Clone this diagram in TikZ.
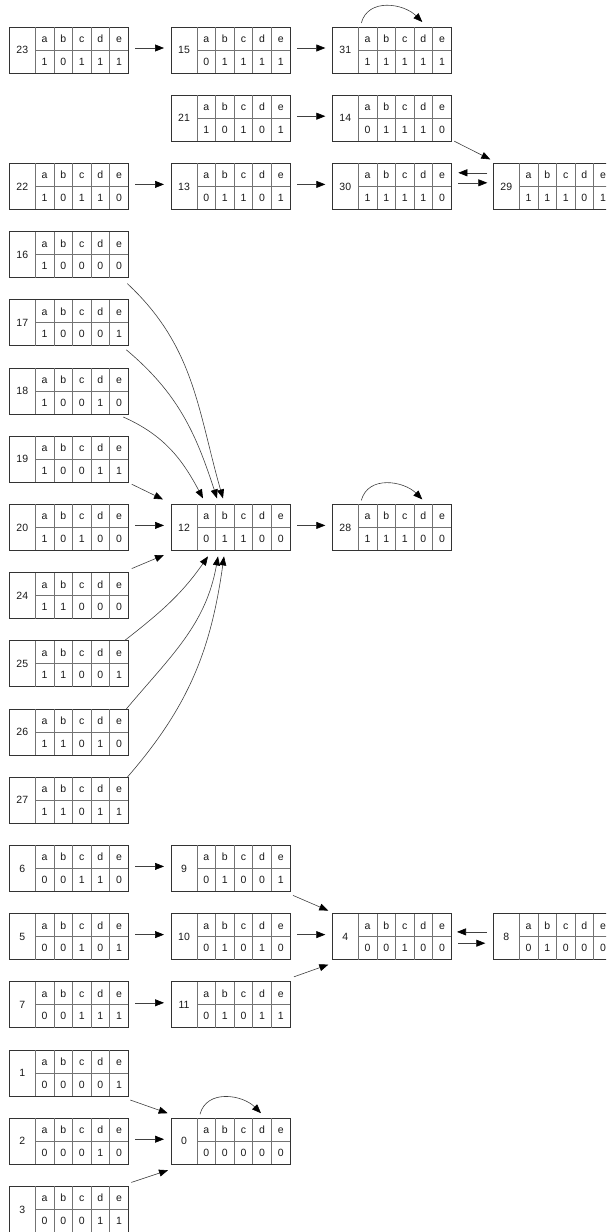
\documentclass[tikz,border=0pt]{standalone}
\usepackage{fontspec}
\setmainfont{Liberation Sans}
\usetikzlibrary{arrows.meta,calc}
\tikzset{
 boxout/.style={draw=black!80,line width=0.8pt,minimum width=119pt,minimum height=46pt,inner sep=0pt,outer sep=0pt},
 cellline/.style={draw=black!55,line width=0.8pt},
 txt/.style={font=\fontsize{10.5}{12}\selectfont,inner sep=0pt,text=black!90},
 arr/.style={draw=black!75,line width=0.6pt,-{Triangle[length=9pt,width=7pt,color=black]}},
}
\newcommand\mkbox[9]{%
  \node[boxout,anchor=north west] (#1) at (#3,-#4) {};
  \begin{scope}[shift={(#1.north west)}]
    \draw[cellline] (26,0) -- (26,-46) (26,-23) -- (119,-23);
    \foreach \k in {1,...,4}{\draw[cellline] ({26+18.6*\k},0) -- ({26+18.6*\k},-46);}
    \node[txt] (#1-lab) at (13,-23) {#2};
    \node[txt,anchor=base] (#1-ha) at (35.3,-15.5) {a};
    \node[txt,anchor=base] (#1-hb) at (53.9,-15.5) {b};
    \node[txt,anchor=base] (#1-hc) at (72.5,-15.5) {c};
    \node[txt,anchor=base] (#1-hd) at (91.1,-15.5) {d};
    \node[txt,anchor=base] (#1-he) at (109.7,-15.5) {e};
    \node[txt,anchor=base] (#1-va) at (35.3,-38) {#5};
    \node[txt,anchor=base] (#1-vb) at (53.9,-38) {#6};
    \node[txt,anchor=base] (#1-vc) at (72.5,-38) {#7};
    \node[txt,anchor=base] (#1-vd) at (91.1,-38) {#8};
    \node[txt,anchor=base] (#1-ve) at (109.7,-38) {#9};
  \end{scope}
}
\newcommand\harr[2]{\draw[arr] ($(#1.east)+(7,2)$) -- ($(#2.west)+(-7,2)$);}
\newcommand\selfloop[1]{\draw[arr] ($(#1.north west)+(29,4)$) to[out=75,in=135,looseness=1.1] ($(#1.north west)+(90,5)$);}
\begin{document}
\begin{tikzpicture}[x=1pt,y=1pt]
\useasboundingbox (0,0) rectangle (606,-1232);
\clip (0,0) rectangle (606,-1232);
% row 0
\mkbox{n23}{23}{9.3}{27}{1}{0}{1}{1}{1}
\mkbox{n15}{15}{171}{27}{0}{1}{1}{1}{1}
\mkbox{n31}{31}{332.3}{27}{1}{1}{1}{1}{1}
% row 1
\mkbox{n21}{21}{171}{95.2}{1}{0}{1}{0}{1}
\mkbox{n14}{14}{332.3}{95.2}{0}{1}{1}{1}{0}
% row 2
\mkbox{n22}{22}{9.3}{163.4}{1}{0}{1}{1}{0}
\mkbox{n13}{13}{171}{163.4}{0}{1}{1}{0}{1}
\mkbox{n30}{30}{332.3}{163.4}{1}{1}{1}{1}{0}
\mkbox{n29}{29}{493.3}{163.4}{1}{1}{1}{0}{1}
% left column
\mkbox{n16}{16}{9.3}{231.6}{1}{0}{0}{0}{0}
\mkbox{n17}{17}{9.3}{299.8}{1}{0}{0}{0}{1}
\mkbox{n18}{18}{9.3}{368}{1}{0}{0}{1}{0}
\mkbox{n19}{19}{9.3}{436.2}{1}{0}{0}{1}{1}
\mkbox{n20}{20}{9.3}{504.4}{1}{0}{1}{0}{0}
\mkbox{n12}{12}{171}{504.4}{0}{1}{1}{0}{0}
\mkbox{n28}{28}{332.3}{504.4}{1}{1}{1}{0}{0}
\mkbox{n24}{24}{9.3}{572.6}{1}{1}{0}{0}{0}
\mkbox{n25}{25}{9.3}{640.8}{1}{1}{0}{0}{1}
\mkbox{n26}{26}{9.3}{709}{1}{1}{0}{1}{0}
\mkbox{n27}{27}{9.3}{777.2}{1}{1}{0}{1}{1}
% lower group
\mkbox{n6}{6}{9.3}{845.4}{0}{0}{1}{1}{0}
\mkbox{n9}{9}{171}{845.4}{0}{1}{0}{0}{1}
\mkbox{n5}{5}{9.3}{913.6}{0}{0}{1}{0}{1}
\mkbox{n10}{10}{171}{913.6}{0}{1}{0}{1}{0}
\mkbox{n4}{4}{332.3}{913.6}{0}{0}{1}{0}{0}
\mkbox{n8}{8}{493.3}{913.6}{0}{1}{0}{0}{0}
\mkbox{n7}{7}{9.3}{981.8}{0}{0}{1}{1}{1}
\mkbox{n11}{11}{171}{981.8}{0}{1}{0}{1}{1}
% bottom group
\mkbox{n1}{1}{9.3}{1050}{0}{0}{0}{0}{1}
\mkbox{n2}{2}{9.3}{1118.2}{0}{0}{0}{1}{0}
\mkbox{n0}{0}{171}{1118.2}{0}{0}{0}{0}{0}
\mkbox{n3}{3}{9.3}{1186.4}{0}{0}{0}{1}{1}
% horizontal arrows
\harr{n23}{n15}
\harr{n15}{n31}
\harr{n21}{n14}
\harr{n22}{n13}
\harr{n13}{n30}
\harr{n20}{n12}
\harr{n12}{n28}
\harr{n6}{n9}
\harr{n5}{n10}
\harr{n10}{n4}
\harr{n7}{n11}
\harr{n2}{n0}
% self loops
\selfloop{n31}
\selfloop{n28}
\selfloop{n0}
% double arrows
\draw[arr] ($(n29.west)+(-6,13.6)$) -- ($(n30.east)+(7,13.6)$);
\draw[arr] ($(n30.east)+(7,3.6)$) -- ($(n29.west)+(-6,3.6)$);
\draw[arr] ($(n8.west)+(-6.6,4.7)$) -- ($(n4.east)+(5.7,4.7)$);
\draw[arr] ($(n4.east)+(7,-6.6)$) -- ($(n8.west)+(-8,-6.6)$);
% diagonals
\draw[arr] ($(n14.south east)+(3,0)$) -- ($(n29.north west)+(-3,4)$);
\draw[arr] ($(n19.south east)+(3.4,-2)$) -- ($(n12.north west)+(-8,5)$);
\draw[arr] ($(n24.north east)+(3.4,4)$) -- ($(n12.south west)+(-7,-4.6)$);
\draw[arr] ($(n9.south east)+(3,-4)$) -- ($(n4.north west)+(-4,3)$);
\draw[arr] ($(n11.north east)+(4,5)$) -- ($(n4.south west)+(-4,-5)$);
\draw[arr] ($(n1.south east)+(2,-4)$) -- ($(n0.north west)+(-3.3,5)$);
\draw[arr] ($(n3.north east)+(3,4)$) -- ($(n0.south west)+(-3,-6)$);
% curves into 12
\draw[arr] ($(n16.south east)+(-1,-6)$) to[out=-43,in=106] ($(n12.north west)+(52,6)$);
\draw[arr] ($(n17.south east)+(-2,-4)$) to[out=-40,in=108] ($(n12.north west)+(46,6)$);
\draw[arr] ($(n18.south east)+(-5,-3)$) to[out=-24,in=118] ($(n12.north west)+(32,6)$);
\draw[arr] ($(n25.north east)+(-4,0)$) to[out=38,in=-125] ($(n12.south west)+(37,-6)$);
\draw[arr] ($(n26.north east)+(-2,0)$) to[out=50,in=-100] ($(n12.south west)+(47,-6)$);
\draw[arr] ($(n27.north east)+(-1,0)$) to[out=49,in=-98] ($(n12.south west)+(53,-6)$);
\end{tikzpicture}
\end{document}
